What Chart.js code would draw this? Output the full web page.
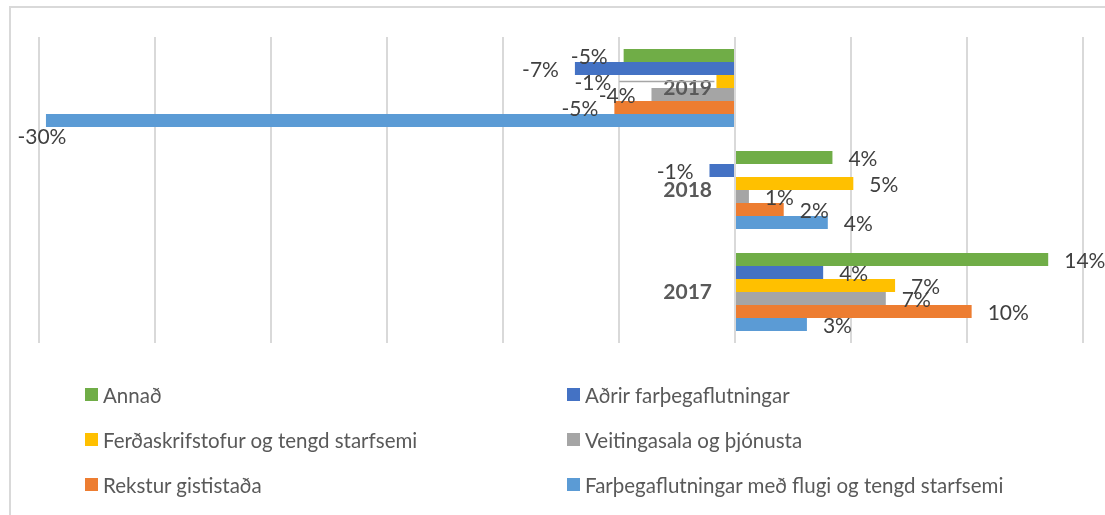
<!DOCTYPE html>
<html>
<head>
<meta charset="utf-8">
<script src="https://cdn.jsdelivr.net/npm/chart.js@4/dist/chart.umd.min.js"></script>
<style>
  html, body { margin: 0; padding: 0; background: #fff; overflow: hidden; }
  #wrap { position: relative; width: 1105px; height: 515px; }
  #frame { position: absolute; left: 9px; top: 6px; width: 1200px; height: 600px;
           border-left: 2px solid #d9d9d9; border-top: 2px solid #d9d9d9; }
  canvas { position: absolute; left: 0; top: 0; }
  #legend { position: absolute; left: 85px; top: 372px; display: grid;
            grid-template-columns: 482px 482px; grid-auto-rows: 45px; }
  .item { display: flex; align-items: center; font-family: Lato, sans-serif;
          font-size: 20.5px; color: #595959; white-space: nowrap; }
  .box { width: 13px; height: 13px; margin-right: 5px; flex: none; }
</style>
</head>
<body>
<div id="wrap">
  <div id="frame"></div>
  <canvas id="chart" width="1105" height="515"></canvas>
  <div id="legend"></div>
</div>
<script>
// categories, top to bottom
const years = ["2019", "2018", "2017"];

// series names and values (% change)
const seriesNames = [
  "Annað",
  "Aðrir farþegaflutningar",
  "Ferðaskrifstofur og tengd starfsemi",
  "Veitingasala og þjónusta",
  "Rekstur gististaða",
  "Farþegaflutningar með flugi og tengd starfsemi"
];
const annad = [-4.8, 4.2, 13.5];
const adrirFarthega = [-6.9, -1.1, 3.8];
const ferdaskrifstofur = [-0.8, 5.1, 6.9];
const veitingasala = [-3.6, 0.6, 6.5];
const reksturGististada = [-5.2, 2.1, 10.2];
const flug = [-29.7, 4.0, 3.1];

const colors = ["#70AD47", "#4472C4", "#FFC000", "#A5A5A5", "#ED7D31", "#5B9BD5"];
const allSeries = [annad, adrirFarthega, ferdaskrifstofur, veitingasala, reksturGististada, flug];

const labelFont = "21px Lato, sans-serif";
const catFont = "bold 21px Lato, sans-serif";

// draws the year labels at zero and the value labels at the bar ends
const labelPlugin = {
  id: "labels",
  afterDatasetsDraw(chart) {
    const ctx = chart.ctx;
    const xs = chart.scales.x, ys = chart.scales.y;
    const zero = xs.getPixelForValue(0);
    const catRight = zero - 23;

    ctx.save();
    ctx.textBaseline = "middle";

    // year labels
    ctx.font = catFont;
    ctx.fillStyle = "#595959";
    ctx.textAlign = "right";
    const catBoxes = [];
    years.forEach(function (y, i) {
      const py = ys.getPixelForValue(i);
      const w = ctx.measureText(y).width;
      ctx.fillText(y, catRight, py);
      catBoxes.push({ left: catRight - w, right: catRight, top: py - 8, bottom: py + 8 });
    });

    // value labels
    ctx.font = labelFont;
    ctx.fillStyle = "#404040";
    chart.data.datasets.forEach(function (ds, di) {
      const meta = chart.getDatasetMeta(di);
      meta.data.forEach(function (bar, i) {
        const v = ds.data[i];
        const txt = Math.round(v) + "%";
        const w = ctx.measureText(txt).width;
        let x, y = bar.y + 2;
        if (v >= 0) {
          ctx.textAlign = "left";
          x = bar.x + 16;
        } else {
          ctx.textAlign = "right";
          x = bar.x - 16;
          if (x - w < 0) {
            // no room at the left edge, put it under the bar
            ctx.textAlign = "center";
            x = bar.x - 4;
            y = bar.y + 17;
          } else {
            const b = catBoxes[i];
            if (x > b.left && y + 6 > b.top && y - 6 < b.bottom) {
              // would hit the year label, move it out with a leader line
              x = b.left - 52;
              ctx.save();
              ctx.strokeStyle = "#a6a6a6";
              ctx.lineWidth = 1.5;
              ctx.beginPath();
              ctx.moveTo(x + 8, bar.y);
              ctx.lineTo(bar.x - 2, bar.y);
              ctx.stroke();
              ctx.restore();
            }
          }
        }
        ctx.fillText(txt, x, y);
      });
    });
    ctx.restore();
  }
};

const datasets = seriesNames.map(function (name, i) {
  return {
    label: name,
    data: allSeries[i],
    backgroundColor: colors[i],
    borderWidth: 0,
    categoryPercentage: 0.765,
    barPercentage: 1.0
  };
});

const myChart = new Chart(document.getElementById("chart"), {
  type: "bar",
  data: { labels: years, datasets: datasets },
  plugins: [labelPlugin],
  options: {
    indexAxis: "y",
    responsive: false,
    animation: false,
    layout: { padding: { left: 39, right: 22, top: 37, bottom: 172 } },
    plugins: { legend: { display: false }, tooltip: { enabled: false } },
    scales: {
      x: {
        min: -30,
        max: 15,
        ticks: { display: false, stepSize: 5 },
        grid: { color: "#d9d9d9", lineWidth: 2, drawTicks: false },
        border: { display: false }
      },
      y: {
        ticks: { display: false },
        grid: { display: false, drawTicks: false },
        border: { display: false }
      }
    }
  }
});

// legend in two columns
const legend = document.getElementById("legend");
seriesNames.forEach(function (name, i) {
  const item = document.createElement("div");
  item.className = "item";
  item.innerHTML = '<span class="box" style="background:' + colors[i] + '"></span>' + name;
  legend.appendChild(item);
});
</script>
</body>
</html>
